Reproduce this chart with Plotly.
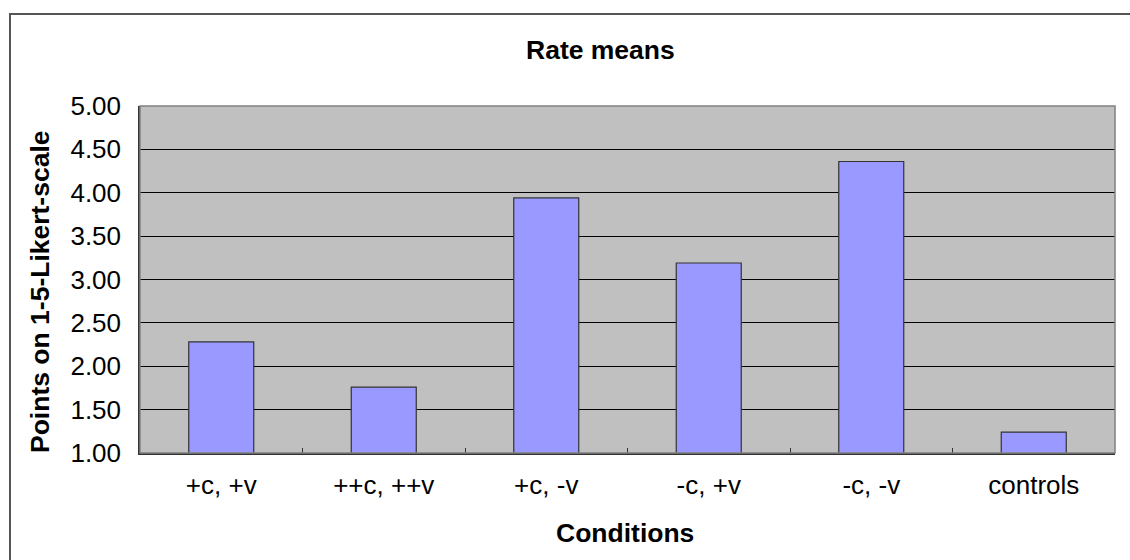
import plotly.graph_objects as go

categories = ["+c, +v", "++c, ++v", "+c, -v", "-c, +v", "-c, -v", "controls"]
rate_means = [2.28, 1.76, 3.94, 3.19, 4.36, 1.24]
y_ticks = [1.0, 1.5, 2.0, 2.5, 3.0, 3.5, 4.0, 4.5, 5.0]
y_tick_labels = ["1.00", "1.50", "2.00", "2.50", "3.00", "3.50", "4.00", "4.50", "5.00"]

W, H = 1130, 560
L, R, T, B = 140, 15, 106, 107
pw, ph = W - L - R, H - T - B

def px(x):
    return (x - L) / pw

def py(y):
    return (H - B - y) / ph

FONT = "Liberation Sans, Arial, sans-serif"

fig = go.Figure()
fig.add_trace(go.Bar(
    x=categories, y=rate_means, base=0,
    marker=dict(color="#9999FF", line=dict(color="#333333", width=1.2)),
))

fig.update_layout(
    width=W, height=H,
    margin=dict(l=L, r=R, t=T, b=B),
    paper_bgcolor="white",
    plot_bgcolor="#C0C0C0",
    bargap=0.6,
    showlegend=False,
    font=dict(family=FONT, color="black", size=26),
    xaxis=dict(
        showgrid=False, showline=True, linecolor="#333333", linewidth=1.5,
        ticks="inside", tickson="boundaries", ticklen=5, tickcolor="#333333",
        tickfont=dict(size=26), ticklabelstandoff=8,
    ),
    yaxis=dict(
        range=[1, 5], tickvals=y_ticks, ticktext=y_tick_labels,
        showgrid=True, gridcolor="black", gridwidth=1.2,
        showline=True, linecolor="#333333", linewidth=1.5,
        ticks="", tickfont=dict(size=26), ticklabelstandoff=12,
        zeroline=False,
    ),
    shapes=[
        dict(type="rect", xref="paper", yref="paper", x0=0, x1=1, y0=0, y1=1,
             line=dict(color="#808080", width=1.5), fillcolor="rgba(0,0,0,0)", layer="above"),
        dict(type="rect", xref="paper", yref="paper", x0=px(10), x1=px(1200),
             y0=py(700), y1=py(14), line=dict(color="#555555", width=2),
             fillcolor="rgba(0,0,0,0)"),
    ],
    annotations=[
        dict(text="<b>Rate means</b>", xref="paper", yref="paper", x=px(600), y=py(50),
             showarrow=False, xanchor="center", yanchor="middle", font=dict(size=26.5)),
        dict(text="<b>Conditions</b>", xref="paper", yref="paper", x=px(625), y=py(533),
             showarrow=False, xanchor="center", yanchor="middle", font=dict(size=26.5)),
        dict(text="<b>Points on 1-5-Likert-scale</b>", xref="paper", yref="paper",
             x=px(40), y=py(292), textangle=-90, showarrow=False,
             xanchor="center", yanchor="middle", font=dict(size=26.5)),
    ],
)

fig.write_html("out.html")
